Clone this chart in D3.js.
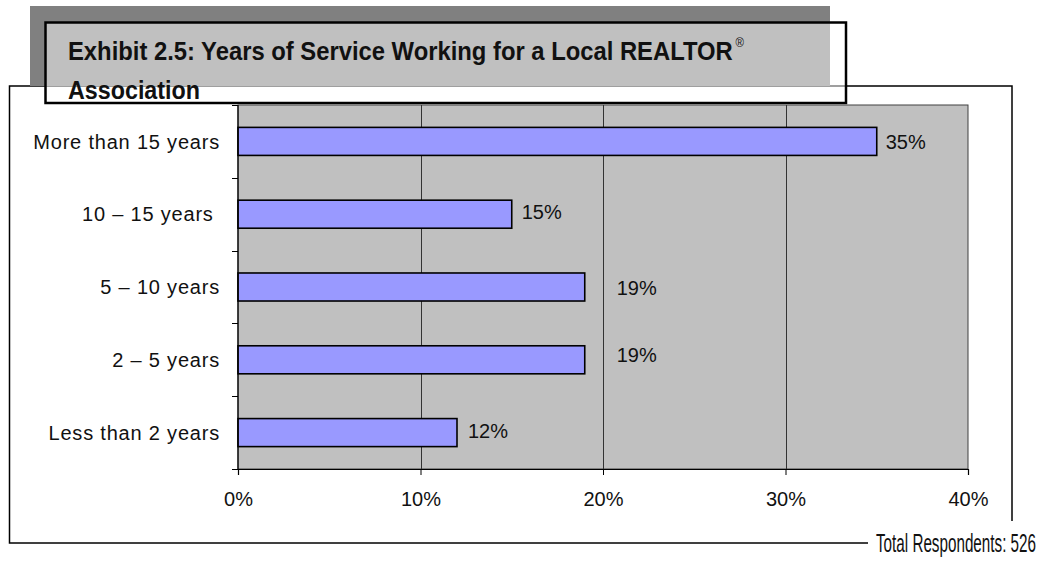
<!DOCTYPE html>
<html>
<head>
<meta charset="utf-8">
<script src="https://cdn.jsdelivr.net/npm/d3@7/dist/d3.min.js"></script>
<style>
  html, body { margin: 0; padding: 0; background: #fff; }
  svg { display: block; }
  .cat { white-space: pre; }
</style>
</head>
<body>
<svg id="chart" width="1042" height="562"></svg>
<script>
// Survey results: years of service working for a local association
const categories = ["More than 15 years", "10 – 15 years ", "5 – 10 years", "2 – 5 years", "Less than 2 years"];
const shares = [35, 15, 19, 19, 12];
const xTickValues = [0, 10, 20, 30, 40];
const titleLines = ["Exhibit 2.5: Years of Service Working for a Local REALTOR", "Association"];
const footnote = "Total Respondents: 526";

// hand-placed offsets of the value labels (px), as laid out in the report
const labelShift = [[9, 0], [10, -2.5], [32, 0.5], [32, -5], [11, -2]];

const svg = d3.select("#chart");
const font = "'Liberation Sans', Arial, sans-serif";
const narrow = "'Liberation Sans Narrow', 'Arial Narrow', 'Liberation Sans', Arial, sans-serif";

const plot = { left: 238, right: 968, top: 105, bottom: 469 };

// outer chart frame
svg.append("rect")
  .attr("x", 9.5).attr("y", 86)
  .attr("width", 1002.5).attr("height", 457)
  .attr("fill", "#fff").attr("stroke", "#000").attr("stroke-width", 1.5);

// title block with its drop shadow
svg.append("rect")
  .attr("x", 30).attr("y", 6).attr("width", 800).attr("height", 80)
  .attr("fill", "#808080");
svg.append("rect")
  .attr("x", 45.5).attr("y", 22.5).attr("width", 800.5).attr("height", 80.5)
  .attr("fill", "#fff").attr("fill-opacity", 0.5)
  .attr("stroke", "#000").attr("stroke-width", 2.5);

const title = svg.append("g")
  .attr("font-family", narrow).attr("font-weight", "bold")
  .attr("font-size", 25).attr("fill", "#111");
const line1 = title.append("text").attr("x", 68).attr("y", 60)
  .attr("textLength", 676).attr("lengthAdjust", "spacingAndGlyphs");
line1.append("tspan").text(titleLines[0]);
line1.append("tspan")
  .attr("dx", 3).attr("dy", -13)
  .attr("font-size", 12).attr("font-weight", "normal")
  .text("®");
title.append("text").attr("x", 68).attr("y", 99)
  .attr("textLength", 132).attr("lengthAdjust", "spacingAndGlyphs")
  .text(titleLines[1]);

// scales
const x = d3.scaleLinear().domain([0, 40]).range([plot.left, plot.right]);
const y = d3.scaleBand().domain(categories)
  .range([plot.top, plot.bottom])
  .paddingInner(0.615).paddingOuter(0.3075);

// plot area
svg.append("rect")
  .attr("x", plot.left).attr("y", plot.top)
  .attr("width", plot.right - plot.left).attr("height", plot.bottom - plot.top)
  .attr("fill", "#c0c0c0").attr("stroke", "#404040").attr("stroke-width", 1);

// vertical gridlines
svg.append("g").selectAll("line")
  .data(xTickValues.slice(1, -1))
  .join("line")
  .attr("x1", d => Math.round(x(d)) + 0.5).attr("x2", d => Math.round(x(d)) + 0.5)
  .attr("y1", plot.top).attr("y2", plot.bottom)
  .attr("stroke", "#333").attr("stroke-width", 1);

// bars
svg.append("g").selectAll("rect")
  .data(shares)
  .join("rect")
  .attr("x", x(0))
  .attr("y", (d, i) => y(categories[i]))
  .attr("width", d => x(d) - x(0))
  .attr("height", y.bandwidth())
  .attr("fill", "#9999ff")
  .attr("stroke", "#000").attr("stroke-width", 1.6);

// value labels
svg.append("g")
  .attr("font-family", font).attr("font-size", 20).attr("fill", "#111")
  .selectAll("text")
  .data(shares)
  .join("text")
  .attr("x", (d, i) => x(d) + labelShift[i][0])
  .attr("y", (d, i) => y(categories[i]) + y.bandwidth() / 2 + labelShift[i][1])
  .attr("dy", "0.36em")
  .text(d => d + "%");

// x axis
const xAxis = d3.axisBottom(x)
  .tickValues(xTickValues)
  .tickFormat(d => d + "%")
  .tickSize(6).tickPadding(17);
const gx = svg.append("g")
  .attr("transform", `translate(0,${plot.bottom})`)
  .call(xAxis);
gx.select(".domain").attr("stroke", "#000").attr("stroke-width", 1.2);
gx.selectAll(".tick line").attr("stroke", "#000");
gx.selectAll(".tick text")
  .attr("font-family", font).attr("font-size", 20).attr("fill", "#111");

// y axis: tick marks sit on the band boundaries
const boundaries = d3.range(categories.length + 1)
  .map(i => plot.top + i * y.step());
const gy = svg.append("g");
gy.append("line")
  .attr("x1", plot.left).attr("x2", plot.left)
  .attr("y1", plot.top).attr("y2", plot.bottom)
  .attr("stroke", "#000").attr("stroke-width", 1.2);
gy.selectAll("line.tick")
  .data(boundaries)
  .join("line").attr("class", "tick")
  .attr("x1", plot.left - 6).attr("x2", plot.left)
  .attr("y1", d => Math.round(d) + 0.5).attr("y2", d => Math.round(d) + 0.5)
  .attr("stroke", "#000");
gy.selectAll("text")
  .data(categories)
  .join("text").attr("class", "cat")
  .attr("x", plot.left - 18)
  .attr("y", d => y(d) + y.bandwidth() / 2)
  .attr("dy", "0.36em")
  .attr("text-anchor", "end")
  .attr("font-family", font).attr("font-size", 20)
  .attr("letter-spacing", 0.8)
  .attr("fill", "#111")
  .text(d => d);

// respondent count in the lower right corner
svg.append("rect")
  .attr("x", 868).attr("y", 521).attr("width", 174).attr("height", 41)
  .attr("fill", "#fff");
svg.append("text")
  .attr("x", 876).attr("y", 552)
  .attr("font-family", narrow).attr("font-size", 25).attr("fill", "#111")
  .attr("textLength", 160).attr("lengthAdjust", "spacingAndGlyphs")
  .text(footnote);
</script>
</body>
</html>
